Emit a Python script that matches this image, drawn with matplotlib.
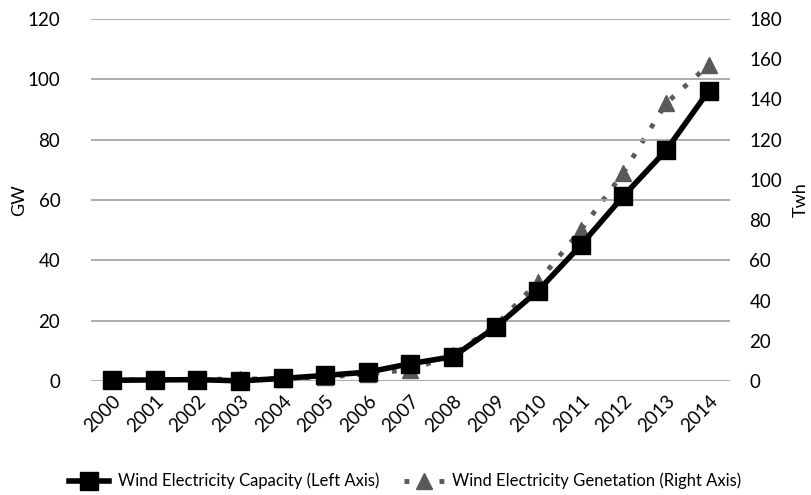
import matplotlib
matplotlib.use("Agg")
import matplotlib.pyplot as plt
from matplotlib.lines import Line2D

plt.rcParams['font.family'] = ['Lato', 'DejaVu Sans']

years = ["2000", "2001", "2002", "2003", "2004", "2005", "2006", "2007",
         "2008", "2009", "2010", "2011", "2012", "2013", "2014"]
capacity_gw = [0.3, 0.4, 0.5, 0.1, 0.9, 1.9, 3.0, 5.8, 8.1, 17.9, 30.0,
               45.0, 61.3, 76.4, 96.1]
generation_twh = [0.6, 0.8, 0.9, 1.0, 1.3, 1.9, 3.7, 5.7, 13.0, 27.6, 49.4,
                  75.0, 103.5, 138.0, 157.0]

fig = plt.figure(figsize=(8.11, 4.95), dpi=100)
ax = fig.add_axes([0.112, 0.230, 0.788, 0.732])
ax2 = ax.twinx()

x = list(range(len(years)))
grey = '#595959'
dots = (0, (1, 2.6))

ax2.plot(x, generation_twh, color=grey, linestyle=dots, linewidth=3.5,
         marker='^', markersize=12, markerfacecolor=grey, markeredgecolor=grey,
         clip_on=False, zorder=2)
ax.plot(x, capacity_gw, color='black', linewidth=4, marker='s', markersize=13,
        markerfacecolor='black', markeredgecolor='black', clip_on=False, zorder=3)

# draw the capacity series above the twin axis
ax.set_zorder(ax2.get_zorder() + 1)
ax.patch.set_visible(False)

ax.set_xlim(-0.5, len(years) - 0.5)
ax.set_ylim(0, 120)
ax.set_yticks(range(0, 121, 20))
ax2.set_ylim(0, 180)
ax2.set_yticks(range(0, 181, 20))

ax.set_xticks(x)
ax.set_xticklabels(years, rotation=45, ha='right', rotation_mode='anchor')
ax.grid(axis='y', color='#a6a6a6', linewidth=1.3)
ax.set_axisbelow(True)

for a in (ax, ax2):
    for s in a.spines.values():
        s.set_visible(False)
    a.tick_params(length=0, labelsize=13.5, colors='#000000')
ax.tick_params(axis='y', pad=22)
ax.tick_params(axis='x', pad=8)
ax2.tick_params(axis='y', pad=14)

ax.set_ylabel('GW', fontsize=13, labelpad=0)
ax2.set_ylabel('Twh', fontsize=13, labelpad=8)

handles = [
    Line2D([], [], color='black', linewidth=4, marker='s', markersize=13),
    Line2D([], [], color=grey, linestyle=dots, linewidth=3.5,
           marker='^', markersize=12),
]
labels = ['Wind Electricity Capacity (Left Axis)',
          'Wind Electricity Genetation (Right Axis)']
fig.legend(handles, labels, loc='center', bbox_to_anchor=(0.5, 0.028),
           ncol=2, frameon=False, fontsize=12, handlelength=2.4,
           columnspacing=1.5, handletextpad=0.5)

fig.savefig('out.png', dpi=100)
